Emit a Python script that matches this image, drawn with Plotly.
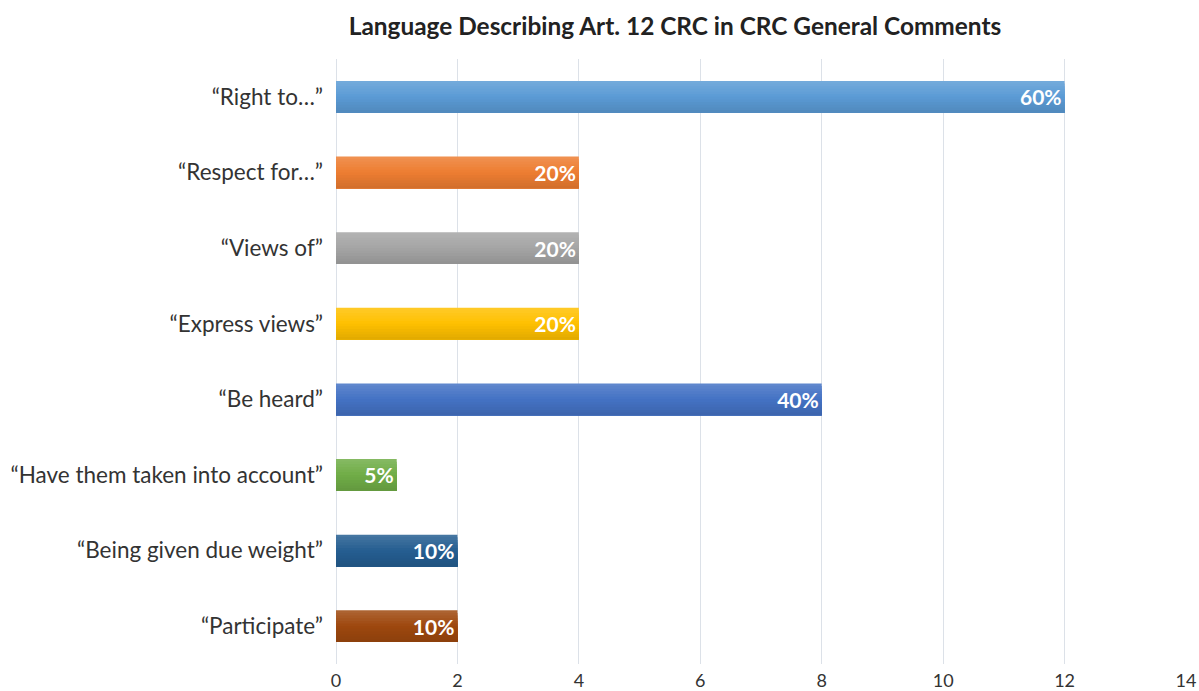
import plotly.graph_objects as go

categories = ["“Right to…”", "“Respect for…”", "“Views of”", "“Express views”",
              "“Be heard”", "“Have them taken into account”", "“Being given due weight”",
              "“Participate”"]
values = [12, 4, 4, 4, 8, 1, 2, 2]
labels = ["60%", "20%", "20%", "20%", "40%", "5%", "10%", "10%"]
colors = ["#5B9BD5", "#ED7D31", "#A5A5A5", "#FFC000", "#4472C4", "#70AD47", "#255E91", "#9E480E"]

FONT = "Lato, Open Sans, sans-serif"
BAR_W = 0.42
N_SLICES = 12


def shade(hex_color, t):
    """t>0 lightens toward white, t<0 darkens toward black."""
    h = hex_color.lstrip("#")
    r, g, b = (int(h[i:i + 2], 16) for i in (0, 2, 4))
    if t >= 0:
        r, g, b = (c + (255 - c) * t for c in (r, g, b))
    else:
        r, g, b = (c * (1 + t) for c in (r, g, b))
    return "rgb(%d,%d,%d)" % (round(r), round(g), round(b))


fig = go.Figure()
slice_w = BAR_W / N_SLICES
for i in range(N_SLICES):
    frac = (i + 0.5) / N_SLICES          # 0 top -> 1 bottom
    t = 0.16 * (1 - 2 * frac) if frac < 0.5 else -0.12 * (2 * frac - 1)
    fig.add_trace(go.Bar(
        x=values, y=categories, orientation="h",
        marker=dict(color=[shade(c, t) for c in colors], line=dict(width=0)),
        width=BAR_W - i * slice_w, offset=-BAR_W / 2 + i * slice_w,
        hoverinfo="skip",
    ))

fig.add_trace(go.Bar(
    x=values, y=categories, orientation="h",
    marker=dict(color="rgba(0,0,0,0)", line=dict(width=0)),
    width=BAR_W,
    text=labels, textposition="inside", insidetextanchor="end", textangle=0,
    constraintext="none",
    textfont=dict(family=FONT, size=21, color="white", weight="bold"),
    cliponaxis=False,
))

fig.update_layout(
    width=1199, height=691,
    margin=dict(l=336, r=13, t=59, b=27),
    paper_bgcolor="white", plot_bgcolor="white",
    showlegend=False, barmode="overlay",
    title=dict(text="<b>Language Describing Art. 12 CRC in CRC General Comments</b>",
               x=675 / 1199, xref="container", xanchor="center", y=0.962, yref="container", yanchor="middle",
               font=dict(family=FONT, size=24.4, color="#222222")),
    xaxis=dict(range=[0, 14], dtick=2, showgrid=True, gridcolor="#DCE1E8", gridwidth=1,
               zeroline=True, zerolinecolor="#DCE1E8", zerolinewidth=1, automargin=False,
               showline=False, ticks="", ticklabelstandoff=4,
               tickfont=dict(family=FONT, size=18, color="#333333")),
    yaxis=dict(autorange="reversed", showgrid=False, showline=False, ticks="", automargin=False,
               ticklabelstandoff=12, tickfont=dict(family=FONT, size=22.5, color="#333333")),
)

fig.write_html("out.html")
